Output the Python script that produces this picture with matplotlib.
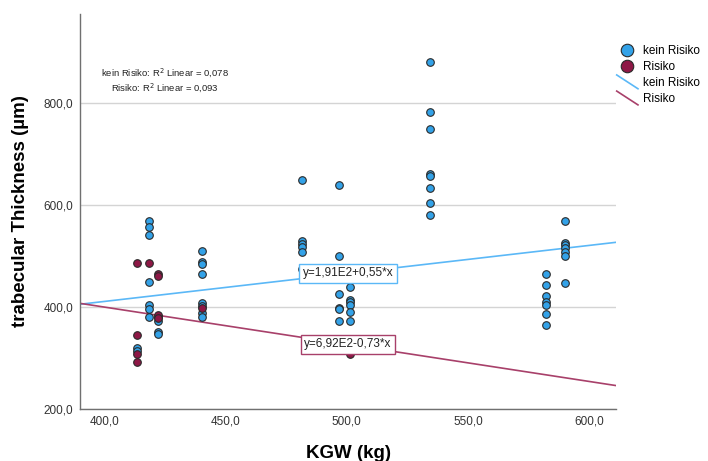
import matplotlib
matplotlib.use("Agg")
from matplotlib import pyplot as plt
from matplotlib.lines import Line2D
from matplotlib.legend_handler import HandlerLine2D

plt.rcParams['font.family'] = ['Liberation Sans', 'DejaVu Sans']

# data
kein_x = [413.5, 413.5, 418.5, 418.5, 418.5, 418.5, 418.5, 418.5, 418.5,
          422, 422, 422, 422,
          440.5, 440.5, 440.5, 440.5, 440.5, 440.5, 440.5, 440.5,
          481.7, 481.7, 481.7, 481.7, 481.7, 481.7,
          496.7, 496.7, 496.7, 496.7, 496.7, 496.7,
          501.2, 501.2, 501.2, 501.2, 501.2, 501.2,
          534.5, 534.5, 534.5, 534.5, 534.5, 534.5, 534.5, 534.5,
          582, 582, 582, 582, 582, 582, 582,
          590, 590, 590, 590, 590, 590, 590]
kein_y = [319, 314, 568, 558, 541, 449, 405, 396, 380,
          380, 372, 351, 347,
          510, 489, 484, 465, 407, 402, 388, 380,
          650, 529, 523, 517, 508, 474,
          639, 500, 425, 398, 396, 372,
          439, 414, 409, 405, 391, 372,
          880, 782, 750, 662, 657, 633, 605, 580,
          465, 443, 422, 410, 404, 386, 365,
          569, 526, 521, 516, 508, 500, 448]

risiko_x = [413.5, 413.5, 413.5, 413.5, 418.5, 422, 422, 422, 422, 440.5, 501.2]
risiko_y = [487, 346, 308, 293, 486, 465, 461, 384, 379, 398, 308]

# fit lines from the chart labels: intercept, slope
kein_fit = [191, 0.55]
risiko_fit = [692, -0.73]
kein_r2 = "0,078"
risiko_r2 = "0,093"

x_ticks = [400, 450, 500, 550, 600]
y_ticks = [200, 400, 600, 800]

blue_pt = '#33A2E8'
red_pt = '#8E1846'
blue_ln = '#5BB8F7'
red_ln = '#A8406A'

fig = plt.figure(figsize=(7.08, 4.61), dpi=100)
ax = fig.add_axes([80 / 708, 52 / 461, 536 / 708, 395 / 461])

ax.set_xlim(390, 611)
ax.set_ylim(200, 975)

ax.set_yticks(y_ticks)
ax.set_xticks(x_ticks)
ax.set_yticklabels([f"{v:.1f}".replace('.', ',') for v in y_ticks])
ax.set_xticklabels([f"{v:.1f}".replace('.', ',') for v in x_ticks])
ax.yaxis.grid(True, color='#d4d4d4', lw=1)
ax.set_axisbelow(True)
ax.tick_params(length=0, labelsize=8.5, labelcolor='#333333', pad=5)

for s in ['top', 'right']:
    ax.spines[s].set_visible(False)
for s in ['left', 'bottom']:
    ax.spines[s].set_color('#707070')
    ax.spines[s].set_linewidth(1)

# regression lines over the full x range
x0, x1 = ax.get_xlim()
for fit, col in [(kein_fit, blue_ln), (risiko_fit, red_ln)]:
    ax.plot([x0, x1], [fit[0] + fit[1] * x0, fit[0] + fit[1] * x1], color=col, lw=1.2, zorder=2)

ax.scatter(kein_x, kein_y, s=30, color=blue_pt, edgecolor='#2a2a2a', linewidth=0.8, zorder=3)
ax.scatter(risiko_x, risiko_y, s=30, color=red_pt, edgecolor='#2a2a2a', linewidth=0.8, zorder=3)

# equation labels at the middle of the x range
xm = (x0 + x1) / 2
for fit, col, sign in [(kein_fit, blue_ln, '+'), (risiko_fit, red_ln, '-')]:
    a = f"{fit[0] / 100:.2f}".replace('.', ',')
    b = f"{abs(fit[1]):.2f}".replace('.', ',')
    ax.text(xm, fit[0] + fit[1] * xm, f"y={a}E2{sign}{b}*x", ha='center', va='center',
            fontsize=8.5, color='#222222', zorder=4,
            bbox=dict(boxstyle='square,pad=0.3', fc='white', ec=col, lw=1))

fig.text(165 / 708, 1 - 73 / 461, f"kein Risiko: R$^2$ Linear = {kein_r2}", ha='center', va='center',
         fontsize=6.8, color='#222222')
fig.text(165 / 708, 1 - 87.5 / 461, f"Risiko: R$^2$ Linear = {risiko_r2}", ha='center', va='center',
         fontsize=6.8, color='#222222')

ax.set_ylabel("trabecular Thickness (µm)", fontsize=13.5, fontweight='bold', labelpad=10)
ax.set_xlabel("KGW (kg)", fontsize=13.5, fontweight='bold', labelpad=12)


class DiagHandler(HandlerLine2D):
    def create_artists(self, legend, orig_handle, xdescent, ydescent, width, height, fontsize, trans):
        line = Line2D([-xdescent, -xdescent + width], [height + 2, -2],
                      color=orig_handle.get_color(), lw=orig_handle.get_linewidth(), transform=trans)
        return [line]


handles = [
    Line2D([], [], ls='', marker='o', ms=9, mfc=blue_pt, mec='#2a2a2a', mew=0.8),
    Line2D([], [], ls='', marker='o', ms=9, mfc=red_pt, mec='#2a2a2a', mew=0.8),
    Line2D([], [], color=blue_ln, lw=1.2),
    Line2D([], [], color=red_ln, lw=1.2),
]
labels = ["kein Risiko", "Risiko", "kein Risiko", "Risiko"]
fig.legend(handles, labels, loc='upper left', bbox_to_anchor=(612 / 708, 1 - 40 / 461),
           frameon=False, fontsize=8.5, handlelength=1.8, handletextpad=0.4, labelspacing=0.35,
           borderaxespad=0, handler_map={handles[2]: DiagHandler(), handles[3]: DiagHandler()})

fig.savefig("out.png", dpi=100)
